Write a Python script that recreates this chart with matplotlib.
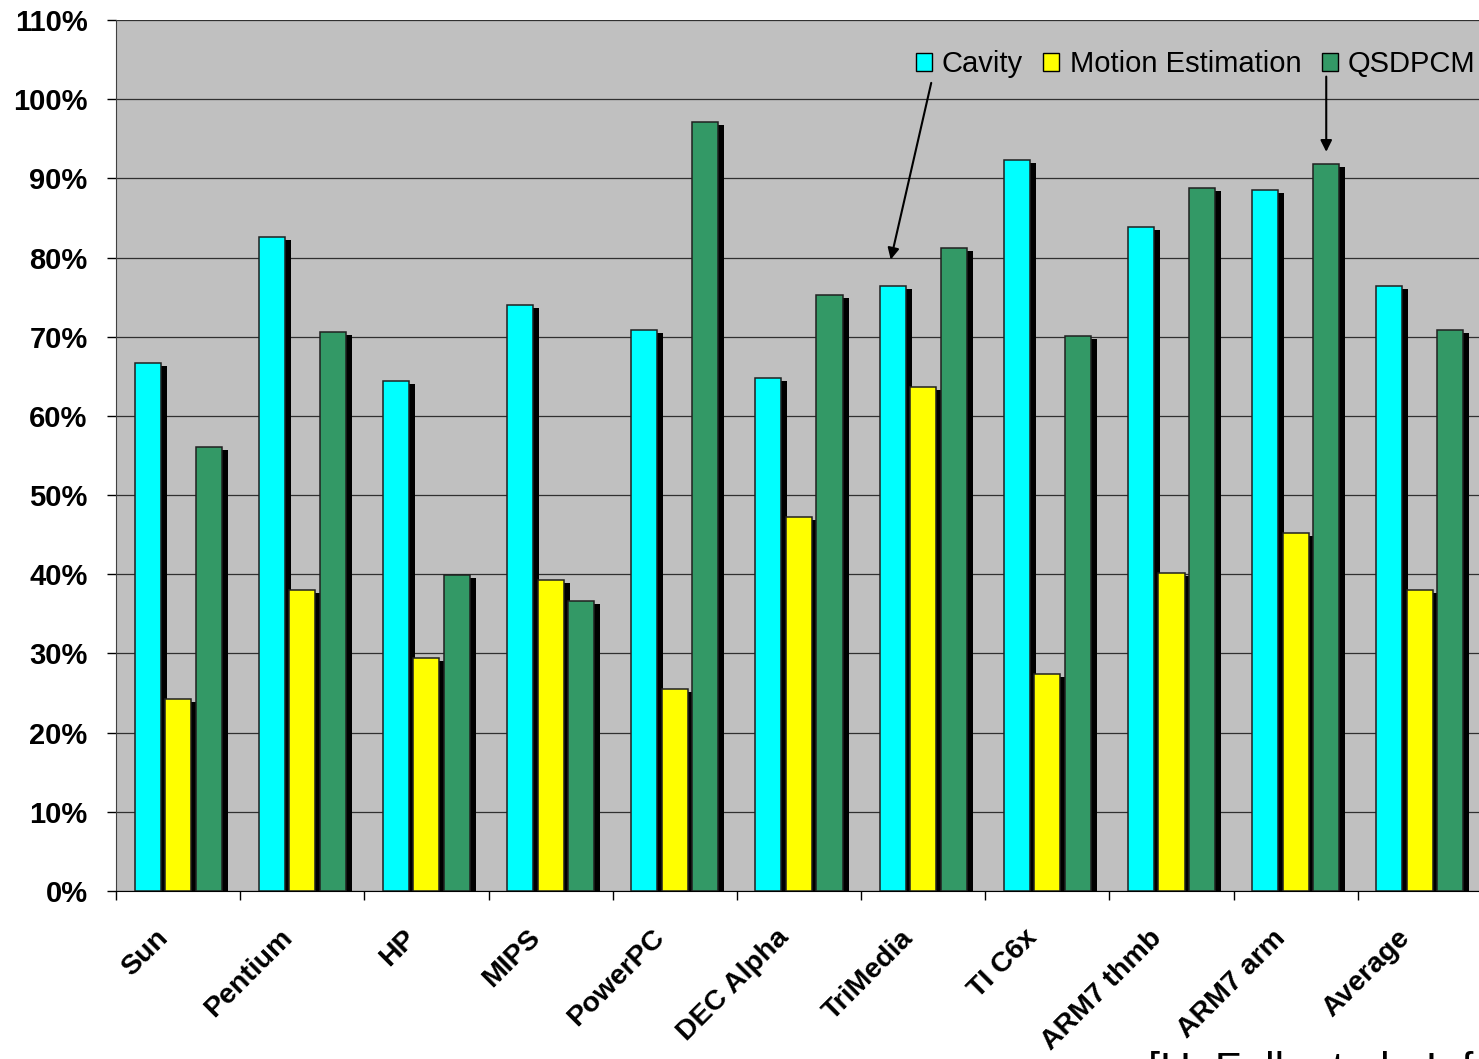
import numpy as np
import matplotlib
matplotlib.use("Agg")
import matplotlib.pyplot as plt
from matplotlib.patches import Patch

plt.rcParams['font.family'] = ['Liberation Sans', 'DejaVu Sans']

categories = ["Sun", "Pentium", "HP", "MIPS", "PowerPC", "DEC Alpha",
              "TriMedia", "TI C6x", "ARM7 thmb", "ARM7 arm", "Average"]
cavity = [66.7, 82.6, 64.4, 74.0, 70.8, 64.8, 76.4, 92.3, 83.8, 88.5, 76.4]
motion_est = [24.2, 38.0, 29.4, 39.3, 25.5, 47.2, 63.6, 27.4, 40.2, 45.2, 38.0]
qsdpcm = [56.1, 70.6, 39.9, 36.6, 97.1, 75.3, 81.2, 70.1, 88.8, 91.8, 70.8]
series_names = ["Cavity", "Motion Estimation", "QSDPCM"]
colors = ["#00FFFF", "#FFFF00", "#339966"]

W, H = 1479, 1059
fig = plt.figure(figsize=(W / 100, H / 100), dpi=100)
ax = fig.add_axes([116 / W, (H - 891) / H, (W - 116) / W + 0.002, 871 / H])
ax.set_facecolor("#C0C0C0")

n = len(categories)
x = np.arange(n)
bw = 0.21
pitch = 0.246
px = 11 / 1363.0  # data units per pixel in x
py = 1.0 / 792.0  # fraction per pixel in y

series = [cavity, motion_est, qsdpcm]
lefts = []
for i, (vals, c) in enumerate(zip(series, colors)):
    v = np.array(vals) / 100.0
    left = x + 0.5 + (i - 1) * pitch - bw / 2
    lefts.append(left)
    # shadow
    ax.bar(left + 6 * px, v - 3 * py, width=bw, align="edge", color="black",
           linewidth=0, zorder=2)
    ax.bar(left, v, width=bw, align="edge", color=c, edgecolor="#202020",
           linewidth=1.1, zorder=3)

ax.set_xlim(0, n)
ax.set_ylim(0, 1.1)
yt = np.arange(0, 1.11, 0.1)
ax.set_yticks(yt)
ax.set_yticklabels(["%d%%" % round(t * 100) for t in yt],
                   fontsize=21, fontweight="bold")
ax.yaxis.grid(True, color="#303030", linewidth=0.9)
ax.set_axisbelow(True)

# labels sit a bit left of the group centre, like excel does
ax.set_xticks(x + 0.5 - 14 * px)
ax.set_xticklabels(categories, rotation=45, ha="right", va="center",
                   rotation_mode="anchor", fontsize=20.5, fontweight="bold")
ax.set_xticks(np.arange(0, n + 1), minor=True)
ax.tick_params(axis="x", which="major", length=0, pad=31)
ax.tick_params(axis="x", which="minor", length=6.5, width=1, direction="out")
ax.tick_params(axis="y", length=6.5, width=1, pad=14)

for s in ["top", "right"]:
    ax.spines[s].set_visible(False)
ax.spines["left"].set_color("#404040")
ax.spines["bottom"].set_color("black")

handles = [Patch(facecolor=c, edgecolor="black", linewidth=1) for c in colors]
ax.legend(handles, series_names, loc="upper right", ncol=3, frameon=False,
          fontsize=21, handlelength=0.55, handleheight=0.55,
          handletextpad=0.35, columnspacing=0.7,
          bbox_to_anchor=(1.006, 0.982), borderaxespad=0.1)

# arrows from legend to bars
ax.annotate("", xy=(lefts[0][6] + bw / 2 - 0.02, cavity[6] / 100 + 0.03),
            xytext=(6.57, 1.024),
            arrowprops=dict(arrowstyle="-|>", color="black", lw=1.5,
                            mutation_scale=17))
ax.annotate("", xy=(lefts[2][9] + bw / 2, qsdpcm[9] / 100 + 0.012),
            xytext=(lefts[2][9] + bw / 2, 1.032),
            arrowprops=dict(arrowstyle="-|>", color="black", lw=1.5,
                            mutation_scale=17))

fig.text(1148 / W, (H - 1082) / H, "[H. Falk et al., Inf. Sci.]", fontsize=31,
         ha="left", va="baseline")

fig.savefig("out.png", dpi=100)
